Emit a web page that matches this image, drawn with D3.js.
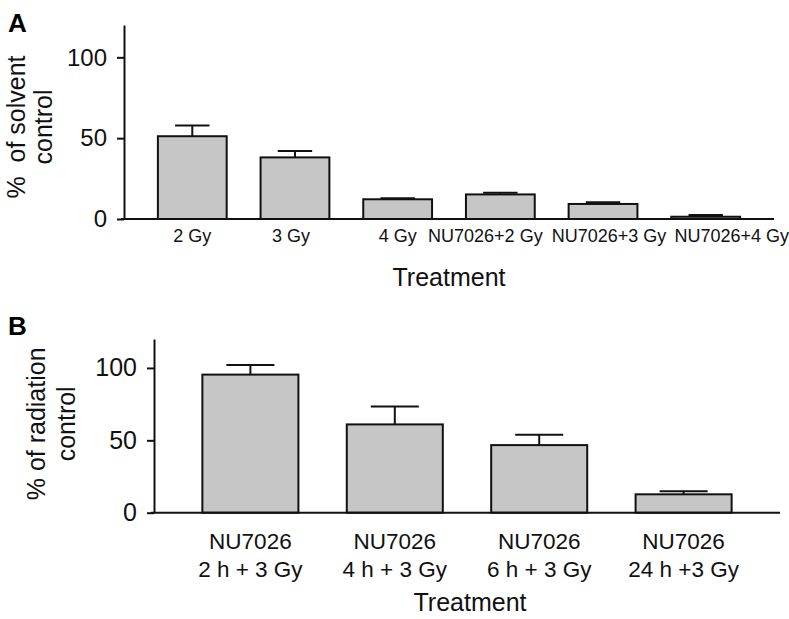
<!DOCTYPE html>
<html>
<head>
<meta charset="utf-8">
<script src="https://cdn.jsdelivr.net/npm/d3@7"></script>
<style>
  html, body { margin: 0; padding: 0; background: #fff; }
  svg { display: block; font-family: "Liberation Sans", Arial, Helvetica, sans-serif; }
</style>
</head>
<body>
<svg id="chart" width="789" height="619"></svg>
<script>
// ---- Data ----
const categoriesA = ["2 Gy", "3 Gy", "4 Gy", "NU7026+2 Gy", "NU7026+3 Gy", "NU7026+4 Gy"];
const valuesA = [51.2, 38.1, 12.2, 15.2, 9.3, 1.4];
const errorsA = [6.6, 3.9, 0.6, 1.0, 1.0, 1.1];

const categoriesB = ["NU7026|2 h + 3 Gy", "NU7026|4 h + 3 Gy", "NU7026|6 h + 3 Gy", "NU7026|24 h +3 Gy"];
const valuesB = [95.4, 61.0, 46.7, 12.7];
const errorsB = [6.7, 12.4, 7.1, 2.1];

const yTickValues = [0, 50, 100];
const yDomain = [0, 120];

// ---- Layout ----
const svg = d3.select("#chart");
const BAR_FILL = "#c6c6c6";
const INK = "#111";

function panel(cfg) {
  const g = svg.append("g");
  const x = d3.scaleBand().domain(cfg.cats).range(cfg.xRange).padding(cfg.padding);
  const y = d3.scaleLinear().domain(yDomain).range(cfg.yRange);

  // bars
  g.selectAll("rect.bar").data(cfg.vals).enter().append("rect")
    .attr("class", "bar")
    .attr("x", (d, i) => x(cfg.cats[i]))
    .attr("width", x.bandwidth())
    .attr("y", d => y(d))
    .attr("height", d => y(0) - y(d))
    .attr("fill", BAR_FILL)
    .attr("stroke", INK)
    .attr("stroke-width", 2);

  // error bars (upper only)
  const eg = g.selectAll("g.err").data(cfg.vals).enter().append("g").attr("class", "err");
  eg.append("line")
    .attr("x1", (d, i) => x(cfg.cats[i]) + x.bandwidth() / 2)
    .attr("x2", (d, i) => x(cfg.cats[i]) + x.bandwidth() / 2)
    .attr("y1", d => y(d))
    .attr("y2", (d, i) => y(d + cfg.errs[i]))
    .attr("stroke", INK).attr("stroke-width", 2);
  eg.append("line")
    .attr("x1", (d, i) => x(cfg.cats[i]) + x.bandwidth() * 0.25)
    .attr("x2", (d, i) => x(cfg.cats[i]) + x.bandwidth() * 0.75)
    .attr("y1", (d, i) => y(d + cfg.errs[i]))
    .attr("y2", (d, i) => y(d + cfg.errs[i]))
    .attr("stroke", INK).attr("stroke-width", 2);

  // y axis
  const yAxis = g.append("g")
    .attr("transform", `translate(${cfg.xRange[0]},0)`)
    .call(d3.axisLeft(y).tickValues(yTickValues).tickSize(7).tickSizeOuter(0).tickPadding(10));
  yAxis.select(".domain").attr("stroke", INK).attr("stroke-width", 2);
  yAxis.selectAll(".tick line").attr("stroke", INK).attr("stroke-width", 2);
  yAxis.selectAll(".tick text").attr("font-size", cfg.yTickFont).attr("fill", INK)
    .attr("font-family", "Liberation Sans, Arial, sans-serif");

  // x axis
  const xAxis = g.append("g")
    .attr("transform", `translate(0,${y(0)})`)
    .call(d3.axisBottom(x).tickSize(0).tickPadding(cfg.xTickPad).tickFormat(""));
  xAxis.select(".domain").remove();
  g.append("line")
    .attr("x1", cfg.xRange[0] - 3).attr("x2", cfg.xRange[1])
    .attr("y1", y(0)).attr("y2", y(0))
    .attr("stroke", INK).attr("stroke-width", 2);

  xAxis.selectAll(".tick").each(function(d, i) {
    const t = d3.select(this).select("text");
    t.text(null).attr("font-size", cfg.xTickFont).attr("fill", INK)
      .attr("font-family", "Liberation Sans, Arial, sans-serif")
      .attr("dy", null)
      .attr("y", cfg.xTickPad);
    const lines = d.split("|");
    lines.forEach((ln, k) => {
      t.append("tspan")
        .attr("x", (cfg.labelShift ? cfg.labelShift[i] : 0))
        .attr("dy", k === 0 ? "0.71em" : cfg.lineGap)
        .text(ln);
    });
  });

  // x title
  g.append("text")
    .attr("x", (cfg.xRange[0] + cfg.xRange[1]) / 2 + cfg.xTitleShift)
    .attr("y", cfg.xTitleY)
    .attr("text-anchor", "middle")
    .attr("font-size", 25)
    .attr("fill", INK)
    .text("Treatment");

  // y title (two lines, rotated)
  const yMid = (cfg.yRange[0] + cfg.yRange[1]) / 2 + cfg.yTitleShift;
  cfg.yTitle.forEach((ln, k) => {
    g.append("text")
      .attr("transform", `translate(${cfg.yTitleX[k]},${yMid}) rotate(-90)`)
      .attr("text-anchor", "middle")
      .attr("font-size", 25)
      .attr("fill", INK)
      .style("white-space", "pre")
      .attr("xml:space", "preserve")
      .text(ln);
  });

  // panel letter
  g.append("text")
    .attr("x", cfg.letterPos[0]).attr("y", cfg.letterPos[1])
    .attr("font-size", 26).attr("font-weight", "bold")
    .attr("fill", "#000")
    .text(cfg.letter);
}

panel({
  cats: categoriesA, vals: valuesA, errs: errorsA,
  xRange: [124, 774], yRange: [219, 25], padding: 0.33,
  yTickFont: 24, xTickFont: 18, xTickPad: 10, lineGap: "1.3em",
  labelShift: [0, -4, 0, -15, 6, 26],
  xTitleY: 286, xTitleShift: 0,
  yTitle: ["%  of solvent", "control"], yTitleX: [25, 52], yTitleShift: 5,
  letter: "A", letterPos: [8, 32]
});

panel({
  cats: categoriesB, vals: valuesB, errs: errorsB,
  xRange: [154, 780], yRange: [512.7, 339], padding: 0.335,
  yTickFont: 25, xTickFont: 22.5, xTickPad: 20, lineGap: "1.28em",
  labelShift: null,
  xTitleY: 611, xTitleShift: 3,
  yTitle: ["% of radiation", "control"], yTitleX: [45, 75], yTitleShift: -2,
  letter: "B", letterPos: [8, 335]
});
</script>
</body>
</html>
